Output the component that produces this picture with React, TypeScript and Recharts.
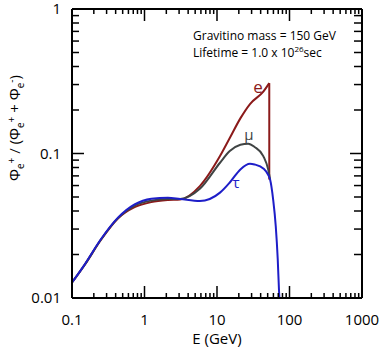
import { LineChart, Line, XAxis, YAxis } from "recharts";

// tick values (log axes)
const xMajor = [0.1, 1, 10, 100, 1000];
const xMinor = [
  0.2, 0.3, 0.4, 0.5, 0.6, 0.7, 0.8, 0.9,
  2, 3, 4, 5, 6, 7, 8, 9,
  20, 30, 40, 50, 60, 70, 80, 90,
  200, 300, 400, 500, 600, 700, 800, 900,
];
const yMajor = [0.01, 0.1, 1];
const yMinor = [
  0.02, 0.03, 0.04, 0.05, 0.06, 0.07, 0.08, 0.09,
  0.2, 0.3, 0.4, 0.5, 0.6, 0.7, 0.8, 0.9,
];

// positron fraction
const eEnergy = [0.1, 0.15, 0.25, 0.43, 0.73, 1.24, 2.1, 3.1, 5.8, 11, 15, 21, 28.5, 43.5, 52.6];
const eRatio = [0.0128, 0.017, 0.0252, 0.0355, 0.0425, 0.0461, 0.0476, 0.048, 0.0595, 0.096, 0.128, 0.175, 0.22, 0.268, 0.307];
const eDropEnergy = [52.6, 52.6];
const eDropRatio = [0.307, 0.066];

const muEnergy = [0.1, 0.15, 0.25, 0.43, 0.73, 1.24, 2.1, 3.1, 5.8, 11, 15, 21, 27, 33, 43.5, 51, 54];
const muRatio = [0.0128, 0.017, 0.0253, 0.0357, 0.0435, 0.0472, 0.0484, 0.0485, 0.057, 0.0863, 0.104, 0.115, 0.117, 0.111, 0.096, 0.077, 0.066];

const tauEnergy = [0.1, 0.15, 0.25, 0.43, 0.73, 1.24, 2.1, 3.1, 5.8, 11, 15, 21, 28.5, 33, 44, 51, 54, 59.5, 64.6, 68.8, 71.8, 72.6];
const tauRatio = [0.0128, 0.0171, 0.0255, 0.036, 0.0445, 0.0487, 0.0495, 0.0485, 0.0469, 0.0536, 0.063, 0.0776, 0.085, 0.084, 0.0785, 0.071, 0.066, 0.048, 0.0315, 0.0186, 0.011, 0.0098];

const toPoints = (xs: number[], ys: number[]) => xs.map((E, i) => ({ E, v: ys[i] }));

const RED = "#8b1a1a";
const GRAY = "#404444";
const BLUE = "#1e1ec8";
const FONT = "'Open Sans', sans-serif";
const TICK_STYLE = { stroke: "#000", strokeWidth: 1.5 };

// tick renderers: x/y come from the axis edge (tickSize = tickMargin = 0)
const renderLeftTick = (p: any) => {
  const major = yMajor.includes(p.payload.value);
  return (
    <g>
      <line x1={p.x} x2={p.x + (major ? 12 : 7)} y1={p.y} y2={p.y} style={TICK_STYLE} />
      {major && (
        <text x={p.x - 11} y={p.y} dy="0.36em" textAnchor="end" fontFamily={FONT} fontSize={15} fill="#000">
          {String(p.payload.value)}
        </text>
      )}
    </g>
  );
};

const renderRightTick = (p: any) => {
  const len = yMajor.includes(p.payload.value) ? 12 : 8;
  return (
    <g>
      <line x1={p.x} x2={p.x - len} y1={p.y} y2={p.y} style={TICK_STYLE} />
    </g>
  );
};

const renderBottomTick = (p: any) => {
  const major = xMajor.includes(p.payload.value);
  return (
    <g>
      <line x1={p.x} x2={p.x} y1={p.y} y2={p.y - (major ? 12 : 5)} style={TICK_STYLE} />
      {major && (
        <text x={p.x} y={p.y + 27} textAnchor="middle" fontFamily={FONT} fontSize={15} fill="#000">
          {String(p.payload.value)}
        </text>
      )}
    </g>
  );
};

const renderTopTick = (p: any) => {
  const len = xMajor.includes(p.payload.value) ? 12 : 5;
  return (
    <g>
      <line x1={p.x} x2={p.x} y1={p.y} y2={p.y + len} style={TICK_STYLE} />
    </g>
  );
};

const frame = { stroke: "#000", strokeWidth: 2 };
const xTicks = [...xMajor, ...xMinor].sort((a, b) => a - b);
const yTicks = [...yMajor, ...yMinor].sort((a, b) => a - b);

export default function App() {
  const eData = toPoints(eEnergy, eRatio);
  return (
    <div style={{ position: "absolute", left: 0, top: 0, width: 382, height: 349 }}>
      <LineChart width={382} height={349} margin={{ top: 7, right: 18, bottom: 21, left: 12 }}>
        <XAxis xAxisId="b" dataKey="E" type="number" scale="log" domain={[0.1, 1000]} allowDataOverflow
          ticks={xTicks} interval={0} tickSize={0} tickMargin={0} tickLine={false} axisLine={frame}
          height={30} tick={renderBottomTick} />
        <XAxis xAxisId="t" dataKey="E" orientation="top" type="number" scale="log" domain={[0.1, 1000]} allowDataOverflow
          ticks={xTicks} interval={0} tickSize={0} tickMargin={0} tickLine={false} axisLine={frame}
          height={2} tick={renderTopTick} />
        <YAxis yAxisId="l" type="number" scale="log" domain={[0.01, 1]} allowDataOverflow
          ticks={yTicks} interval={0} tickSize={0} tickMargin={0} tickLine={false} axisLine={frame}
          width={60} tick={renderLeftTick} />
        <YAxis yAxisId="r" orientation="right" type="number" scale="log" domain={[0.01, 1]} allowDataOverflow
          ticks={yTicks} interval={0} tickSize={0} tickMargin={0} tickLine={false} axisLine={frame}
          width={2} tick={renderRightTick} />

        {/* invisible copy so the top/right frame axes get a domain */}
        <Line xAxisId="t" yAxisId="r" data={eData} dataKey="v" stroke="none" dot={false} activeDot={false} legendType="none" isAnimationActive={false} />

        <Line xAxisId="b" yAxisId="l" data={eData} dataKey="v" type="monotone" stroke={RED} strokeWidth={2} dot={false} isAnimationActive={false} />
        <Line xAxisId="b" yAxisId="l" data={toPoints(eDropEnergy, eDropRatio)} dataKey="v" type="linear" stroke={RED} strokeWidth={2} dot={false} isAnimationActive={false} />
        <Line xAxisId="b" yAxisId="l" data={toPoints(muEnergy, muRatio)} dataKey="v" type="monotone" stroke={GRAY} strokeWidth={2} dot={false} isAnimationActive={false} />
        <Line xAxisId="b" yAxisId="l" data={toPoints(tauEnergy, tauRatio)} dataKey="v" type="monotone" stroke={BLUE} strokeWidth={2} dot={false} isAnimationActive={false} />

        <g fontFamily={FONT}>
          <text x={193} y={40} fontSize={12} fill="#000">Gravitino mass = 150 GeV</text>
          <text x={193} y={57} fontSize={12} fill="#000">
            Lifetime = 1.0 x 10<tspan dy={-5} fontSize={8}>26</tspan>
            <tspan dy={5}>sec</tspan>
          </text>
          <text x={258} y={93} textAnchor="middle" fontSize={17} fill={RED}>e</text>
          <text x={249} y={140} textAnchor="middle" fontSize={15} fill={GRAY}>μ</text>
          <text x={236} y={188} textAnchor="middle" fontSize={15} fill={BLUE}>τ</text>
          <text x={217} y={344} textAnchor="middle" fontSize={15} fill="#000">E (GeV)</text>
          <text transform="translate(20,128) rotate(-90)" textAnchor="middle" fontSize={15} fill="#000">
            Φ<tspan dy={4} fontSize={10}>e</tspan>
            <tspan dy={-9} fontSize={10}>+</tspan>
            <tspan dy={5}> / (Φ</tspan>
            <tspan dy={4} fontSize={10}>e</tspan>
            <tspan dy={-9} fontSize={10}>+</tspan>
            <tspan dy={5}> + Φ</tspan>
            <tspan dy={4} fontSize={10}>e</tspan>
            <tspan dy={-9} fontSize={10}>-</tspan>
            <tspan dy={5}>)</tspan>
          </text>
        </g>
      </LineChart>
    </div>
  );
}
